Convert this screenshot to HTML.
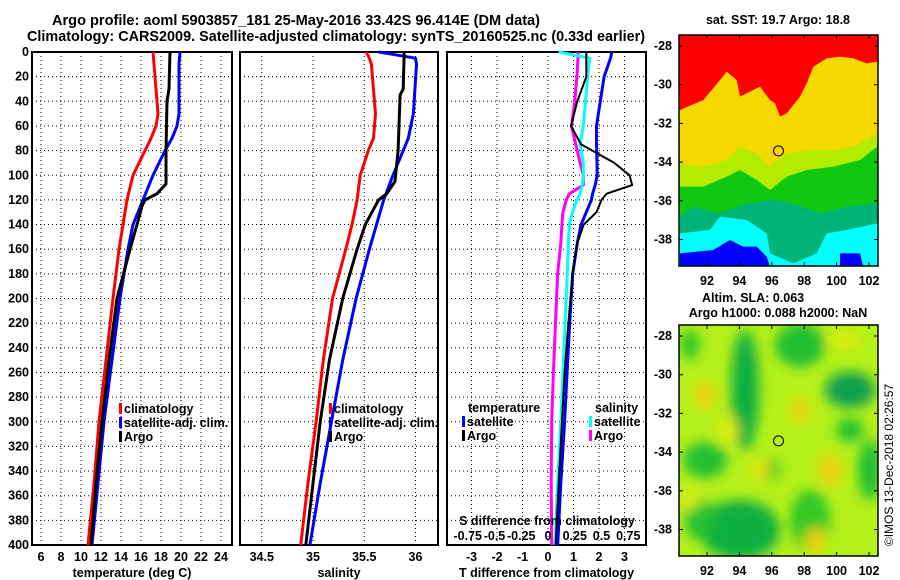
<!DOCTYPE html>
<html><head><meta charset="utf-8"><style>
html,body{margin:0;padding:0;background:#fff;}
svg{display:block;font-family:"Liberation Sans",Arial,sans-serif;font-weight:bold;}
</style></head><body>
<svg id="c" width="900" height="580" viewBox="0 0 900 580" xmlns="http://www.w3.org/2000/svg">
<defs>
<filter id="blur" x="-50%" y="-50%" width="200%" height="200%"><feGaussianBlur stdDeviation="6"/></filter>
<clipPath id="clipMap2"><rect x="679" y="325" width="199" height="231"/></clipPath>
<clipPath id="clipMap1"><rect x="679" y="35" width="199" height="231"/></clipPath>
</defs>
<text x="52" y="25" font-size="15" textLength="488" lengthAdjust="spacingAndGlyphs">Argo profile: aoml 5903857_181 25-May-2016 33.42S 96.414E (DM data)</text>
<text x="27" y="41" font-size="15" textLength="618" lengthAdjust="spacingAndGlyphs">Climatology: CARS2009. Satellite-adjusted climatology: synTS_20160525.nc (0.33d earlier)</text>
<g id="panels"></g>
<g id="maps"></g>
<text transform="translate(893,465) rotate(-90)" font-size="12" font-weight="normal" text-anchor="middle">©IMOS 13-Dec-2018 02:26:57</text>
</svg>
<script>
// ---- data ----
const depthsT = [0,10,30,50,60,70,80,100,120,140,160,200,250,300,350,400];
const tempClim = [17.2,17.3,17.5,17.7,17.5,17.0,16.4,15.2,14.6,14.2,13.8,13.2,12.5,11.8,11.3,10.7];
const tempSat  = [19.9,19.8,19.8,19.8,19.6,19.1,18.4,17.2,16.2,15.2,14.7,13.9,13.1,12.3,11.7,11.1];
const depthsArgoT = [0,30,40,80,107,115,120,125,140,160,200,250,300,350,400];
const tempArgo = [18.9,18.8,18.6,18.5,18.5,17.6,16.4,16.1,15.6,14.9,13.6,12.8,12.1,11.5,11.0];
const depthsS = [0,5,10,50,70,80,100,120,140,160,200,250,300,350,400];
const salClim = [35.52,35.55,35.57,35.61,35.59,35.54,35.46,35.43,35.38,35.32,35.19,35.10,35.03,34.95,34.88];
const salSat  = [35.64,36.00,36.01,35.98,35.93,35.88,35.78,35.69,35.62,35.55,35.42,35.29,35.18,35.07,34.97];
const depthsArgoS = [0,30,35,80,105,115,120,140,160,200,250,300,350,400];
const salArgo = [35.89,35.88,35.85,35.83,35.80,35.72,35.64,35.51,35.43,35.29,35.16,35.07,35.00,34.93];
const depthsD = [0,5,20,40,60,75,90,100,108,115,120,130,140,155,180,220,260,300,350,400];
const dTsat  = [2.5,2.45,2.2,2.05,1.9,1.9,1.92,1.93,1.85,1.75,1.7,1.5,1.3,1.15,0.97,0.85,0.75,0.65,0.5,0.38];
const dTargo = [1.5,1.5,1.5,1.15,0.9,1.3,2.6,3.2,3.3,2.3,2.1,1.9,1.4,1.15,0.96,0.8,0.65,0.55,0.42,0.3];
const dSsat  = [0.1,0.39,0.37,0.35,0.33,0.3,0.33,0.33,0.32,0.3,0.27,0.23,0.2,0.19,0.18,0.16,0.14,0.12,0.09,0.065];
const dSargo = [0.28,0.28,0.27,0.25,0.22,0.26,0.3,0.33,0.33,0.2,0.17,0.14,0.13,0.12,0.09,0.07,0.05,0.035,0.03,0.035];
const depthTicks = [0,20,40,60,80,100,120,140,160,180,200,220,240,260,280,300,320,340,360,380,400];
const tTicks = [6,8,10,12,14,16,18,20,22,24];
const sTicks = [34.5,35,35.5,36];
const dTTicks = [-3,-2,-1,0,1,2,3];
const dSTicks = [-0.75,-0.5,-0.25,0,0.25,0.5,0.75];
const dSTickLabels = ["-0.75","-0.5","-0.25","0","0.25","0.5","0.75"];
const mapLonTicks = [92,94,96,98,100,102];
const mapLatTicks = [-28,-30,-32,-34,-36,-38];
const argoLon = 96.414, argoLat = -33.42;

const NS='http://www.w3.org/2000/svg';
function mk(tag, attrs, parent){const e=document.createElementNS(NS,tag);for(const k in attrs)e.setAttribute(k,attrs[k]);parent.appendChild(e);return e;}
const panels=document.getElementById('panels');
const yD = d => 52 + d*(545-52)/400;
const Y0=52, Y1=545;

function panel(name,x0,x1,xs,ticks,labels,xlabel){
  const g=mk('g',{},panels);
  
  
  ticks.forEach(t=>{const l=mk('line',{x1:xs(t),x2:xs(t),y1:Y0,y2:Y1,stroke:'#000','stroke-width':1,'stroke-dasharray':'1,3'},g);
    
    });
  depthTicks.forEach(d=>{const l=mk('line',{x1:x0,x2:x1,y1:yD(d),y2:yD(d),stroke:'#000','stroke-width':1,'stroke-dasharray':'1,3'},g);
    
    });
  ticks.forEach((t,i)=>{if(labels){const tx=mk('text',{x:xs(t),y:561,'font-size':12.5,'text-anchor':'middle'},g);tx.textContent=labels[i];
    
    }});
  const r=mk('rect',{x:x0,y:Y0,width:x1-x0,height:Y1-Y0,fill:'none',stroke:'#000','stroke-width':2},g);
  
  
  if(xlabel){const t=mk('text',{x:(x0+x1)/2,y:577,'font-size':12.5,'text-anchor':'middle'},g);t.textContent=xlabel;
    
    }
  return g;
}
function line(g,xs,vals,depths,color,name,w){
  const pts=vals.map((v,i)=>xs(v).toFixed(1)+','+yD(depths[i]).toFixed(1)).join(' ');
  const p=mk('polyline',{points:pts,fill:'none',stroke:color,'stroke-width':w||3,'stroke-linejoin':'round'},g);
  
  
}
function legend(g,x,y,color,label,name){
  const r=mk('rect',{x:x,y:y-10,width:3,height:11,fill:color},g);
  
  
  const t=mk('text',{x:x+5,y:y,'font-size':12.5},g);t.textContent=label;
  
  
}
depthTicks.forEach(d=>{const t=mk('text',{x:29,y:yD(d)+4,'font-size':12.5,'text-anchor':'end'},panels);t.textContent=d;
  
  });

const xT = t => 41 + (t-6)*10;
const g1=panel('temperature-panel',32,232,xT,tTicks,tTicks.map(String),'temperature (deg C)');
line(g1,xT,tempClim,depthsT,'#f00','temp-climatology-line');
line(g1,xT,tempSat,depthsT,'#00f','temp-satellite-line');
line(g1,xT,tempArgo,depthsArgoT,'#000','temp-argo-line');
legend(g1,119,413,'#f00','climatology','legend-climatology');
legend(g1,119,427,'#00f','satellite-adj. clim.','legend-satellite');
legend(g1,119,441,'#000','Argo','legend-argo');

const xS = s => 313 + (s-35)*102.5;
const g2=panel('salinity-panel',240,438,xS,sTicks,['34.5','35','35.5','36'],'salinity');
line(g2,xS,salClim,depthsS,'#f00','sal-climatology-line');
line(g2,xS,salSat,depthsS,'#00f','sal-satellite-line');
line(g2,xS,salArgo,depthsArgoS,'#000','sal-argo-line');
legend(g2,329,413,'#f00','climatology','legend-climatology');
legend(g2,329,427,'#00f','satellite-adj. clim.','legend-satellite');
legend(g2,329,441,'#000','Argo','legend-argo');

const xDT = t => 548 + t*25.5;
const xDS = s => 548 + s*107;
const g3=panel('difference-panel',447,646,xDT,dTTicks,dTTicks.map(String),'T difference from climatology');
line(g3,xDS,dSargo,depthsD,'#f0f','sal-argo-diff-line');
line(g3,xDS,dSsat,depthsD,'#0ff','sal-satellite-diff-line');
line(g3,xDT,dTsat,depthsD,'#00f','temp-satellite-diff-line');
line(g3,xDT,dTargo,depthsD,'#000','temp-argo-diff-line',2);
{const t=mk('text',{x:468,y:412,'font-size':12.5},g3);t.textContent='temperature';
 
 
 const t2=mk('text',{x:595,y:412,'font-size':12.5},g3);t2.textContent='salinity';
 
 }
legend(g3,462,426,'#00f','satellite','legend-temp-satellite');
legend(g3,462,440,'#000','Argo','legend-temp-argo');
legend(g3,589,426,'#0ff','satellite','legend-sal-satellite');
legend(g3,589,440,'#f0f','Argo','legend-sal-argo');
{const t=mk('text',{x:547,y:525,'font-size':12.5,'text-anchor':'middle'},g3);t.textContent='S difference from climatology';
 
 }
dSTicks.forEach((s,i)=>{const t=mk('text',{x:xDS(s),y:540,'font-size':12.5,'text-anchor':'middle'},g3);t.textContent=dSTickLabels[i];
 
 });

// ---- maps ----
const maps=document.getElementById('maps');
function mapFrame(top){
  const lx = lon => 707 + (lon-92)*16.2;
  const ly = lat => top + 11 + (-28-lat)*19.35;
  return {lx,ly,top};
}
function poly(g,pts,fill,name){const p=mk('polygon',{points:pts.map(p=>p.join(',')).join(' '),fill:fill},g);
  
  }
const m1=mk('g',{'clip-path':'url(#clipMap1)'},maps);


const Z=(a)=>a.map(p=>[660+p[0]/3,p[1]/3]);
mk('rect',{x:679,y:35,width:199,height:231,fill:'#00ffff'},m1);
poly(m1,[[679,35],[878,35],...Z([[652,670],[560,690],[500,700],[470,760],[400,790],[330,760],[320,700],[260,660],[180,650],[150,690],[60,700]])],'#00b478','sst-teal');
poly(m1,[[679,35],[878,35],...Z([[652,610],[560,620],[480,640],[400,610],[340,600],[260,610],[180,640],[100,620],[60,650]])],'#10c810','sst-green');
poly(m1,[[679,35],[878,35],...Z([[652,440],[600,480],[520,500],[440,510],[380,530],[330,570],[290,540],[240,510],[200,530],[130,560],[60,560]])],'#b4ec00','sst-lime');
poly(m1,[[679,35],[878,35],...Z([[652,400],[580,440],[520,450],[440,450],[380,460],[330,500],[290,460],[240,440],[200,480],[130,500],[60,490]])],'#f5d800','sst-gold');
poly(m1,[[679,35],[878,35],...Z([[652,185],[620,190],[580,175],[540,170],[500,175],[460,200],[440,250],[420,290],[380,340],[360,350],[345,310],[330,300],[300,260],[240,290],[230,240],[200,215],[180,240],[130,300],[60,330]])],'#ff0000','sst-red');
poly(m1,Z([[60,760],[160,750],[210,720],[250,740],[290,740],[320,770],[330,800],[60,800]]),'#0000ff','sst-blue-left');
poly(m1,Z([[540,760],[600,760],[610,800],[540,800]]),'#0000ff','sst-blue-right');
const f1=mapFrame(35);
const m2=mk('g',{'clip-path':'url(#clipMap2)'},maps);


mk('rect',{x:679,y:325,width:199,height:231,fill:'#b4f01a'},m2);
const blobs=mk('g',{filter:'url(#blur)'},m2);
[[745,390,14,60,'#10b040'],[800,345,25,22,'#20c030'],[850,390,25,18,'#08a050'],[705,460,22,18,'#20c030'],[740,530,40,30,'#10b040'],[810,520,20,30,'#30c828'],[870,470,12,30,'#20c030'],[850,430,14,12,'#20c030'],[690,345,10,15,'#30c828'],[770,470,10,10,'#30c828'],[700,520,15,20,'#20c030'],
 [705,395,10,14,'#f0d010'],[800,410,10,12,'#f0d010'],[830,470,12,16,'#f0d010'],[760,470,10,10,'#e8e010'],[815,540,10,12,'#f0d010'],[845,340,18,10,'#d8ec10'],[728,430,10,14,'#e0ec10'],[690,500,8,10,'#e0ec10']].forEach(b=>{
  const e=mk('ellipse',{cx:b[0],cy:b[1],rx:b[2],ry:b[3],fill:b[4]},blobs);
  
  });
const f2=mapFrame(325);
[f1,f2].forEach((f,k)=>{
  const g=mk('g',{},maps);
  
  
  mk('rect',{x:679,y:f.top,width:199,height:231,fill:'none',stroke:'#000','stroke-width':1.5},g);
  mapLonTicks.forEach(lo=>{const x=f.lx(lo);
    mk('line',{x1:x,x2:x,y1:f.top,y2:f.top+4,stroke:'#000'},g);
    mk('line',{x1:x,x2:x,y1:f.top+231,y2:f.top+227,stroke:'#000'},g);
    const t=mk('text',{x:x,y:f.top+250,'font-size':12.5,'text-anchor':'middle'},g);t.textContent=lo;
    
    });
  mapLatTicks.forEach(la=>{const y=f.ly(la);
    mk('line',{x1:679,x2:683,y1:y,y2:y,stroke:'#000'},g);
    mk('line',{x1:878,x2:874,y1:y,y2:y,stroke:'#000'},g);
    const t=mk('text',{x:672,y:y+4,'font-size':12.5,'text-anchor':'end'},g);t.textContent=la;
    
    });
  const c=mk('circle',{cx:f.lx(argoLon),cy:f.ly(argoLat),r:5,fill:'none',stroke:'#000','stroke-width':1},g);
  
  
});
[['sat. SST: 19.7 Argo: 18.8',778,24,'middle','sst-map-title'],['Altim. SLA: 0.063',702,302,'start','sla-map-title'],['Argo h1000: 0.088 h2000: NaN',778,317,'middle','argo-height-title']].forEach(a=>{
  const t=mk('text',{x:a[1],y:a[2],'font-size':12.5,'text-anchor':a[3]},maps);t.textContent=a[0];
  
  });
</script>
</body></html>
